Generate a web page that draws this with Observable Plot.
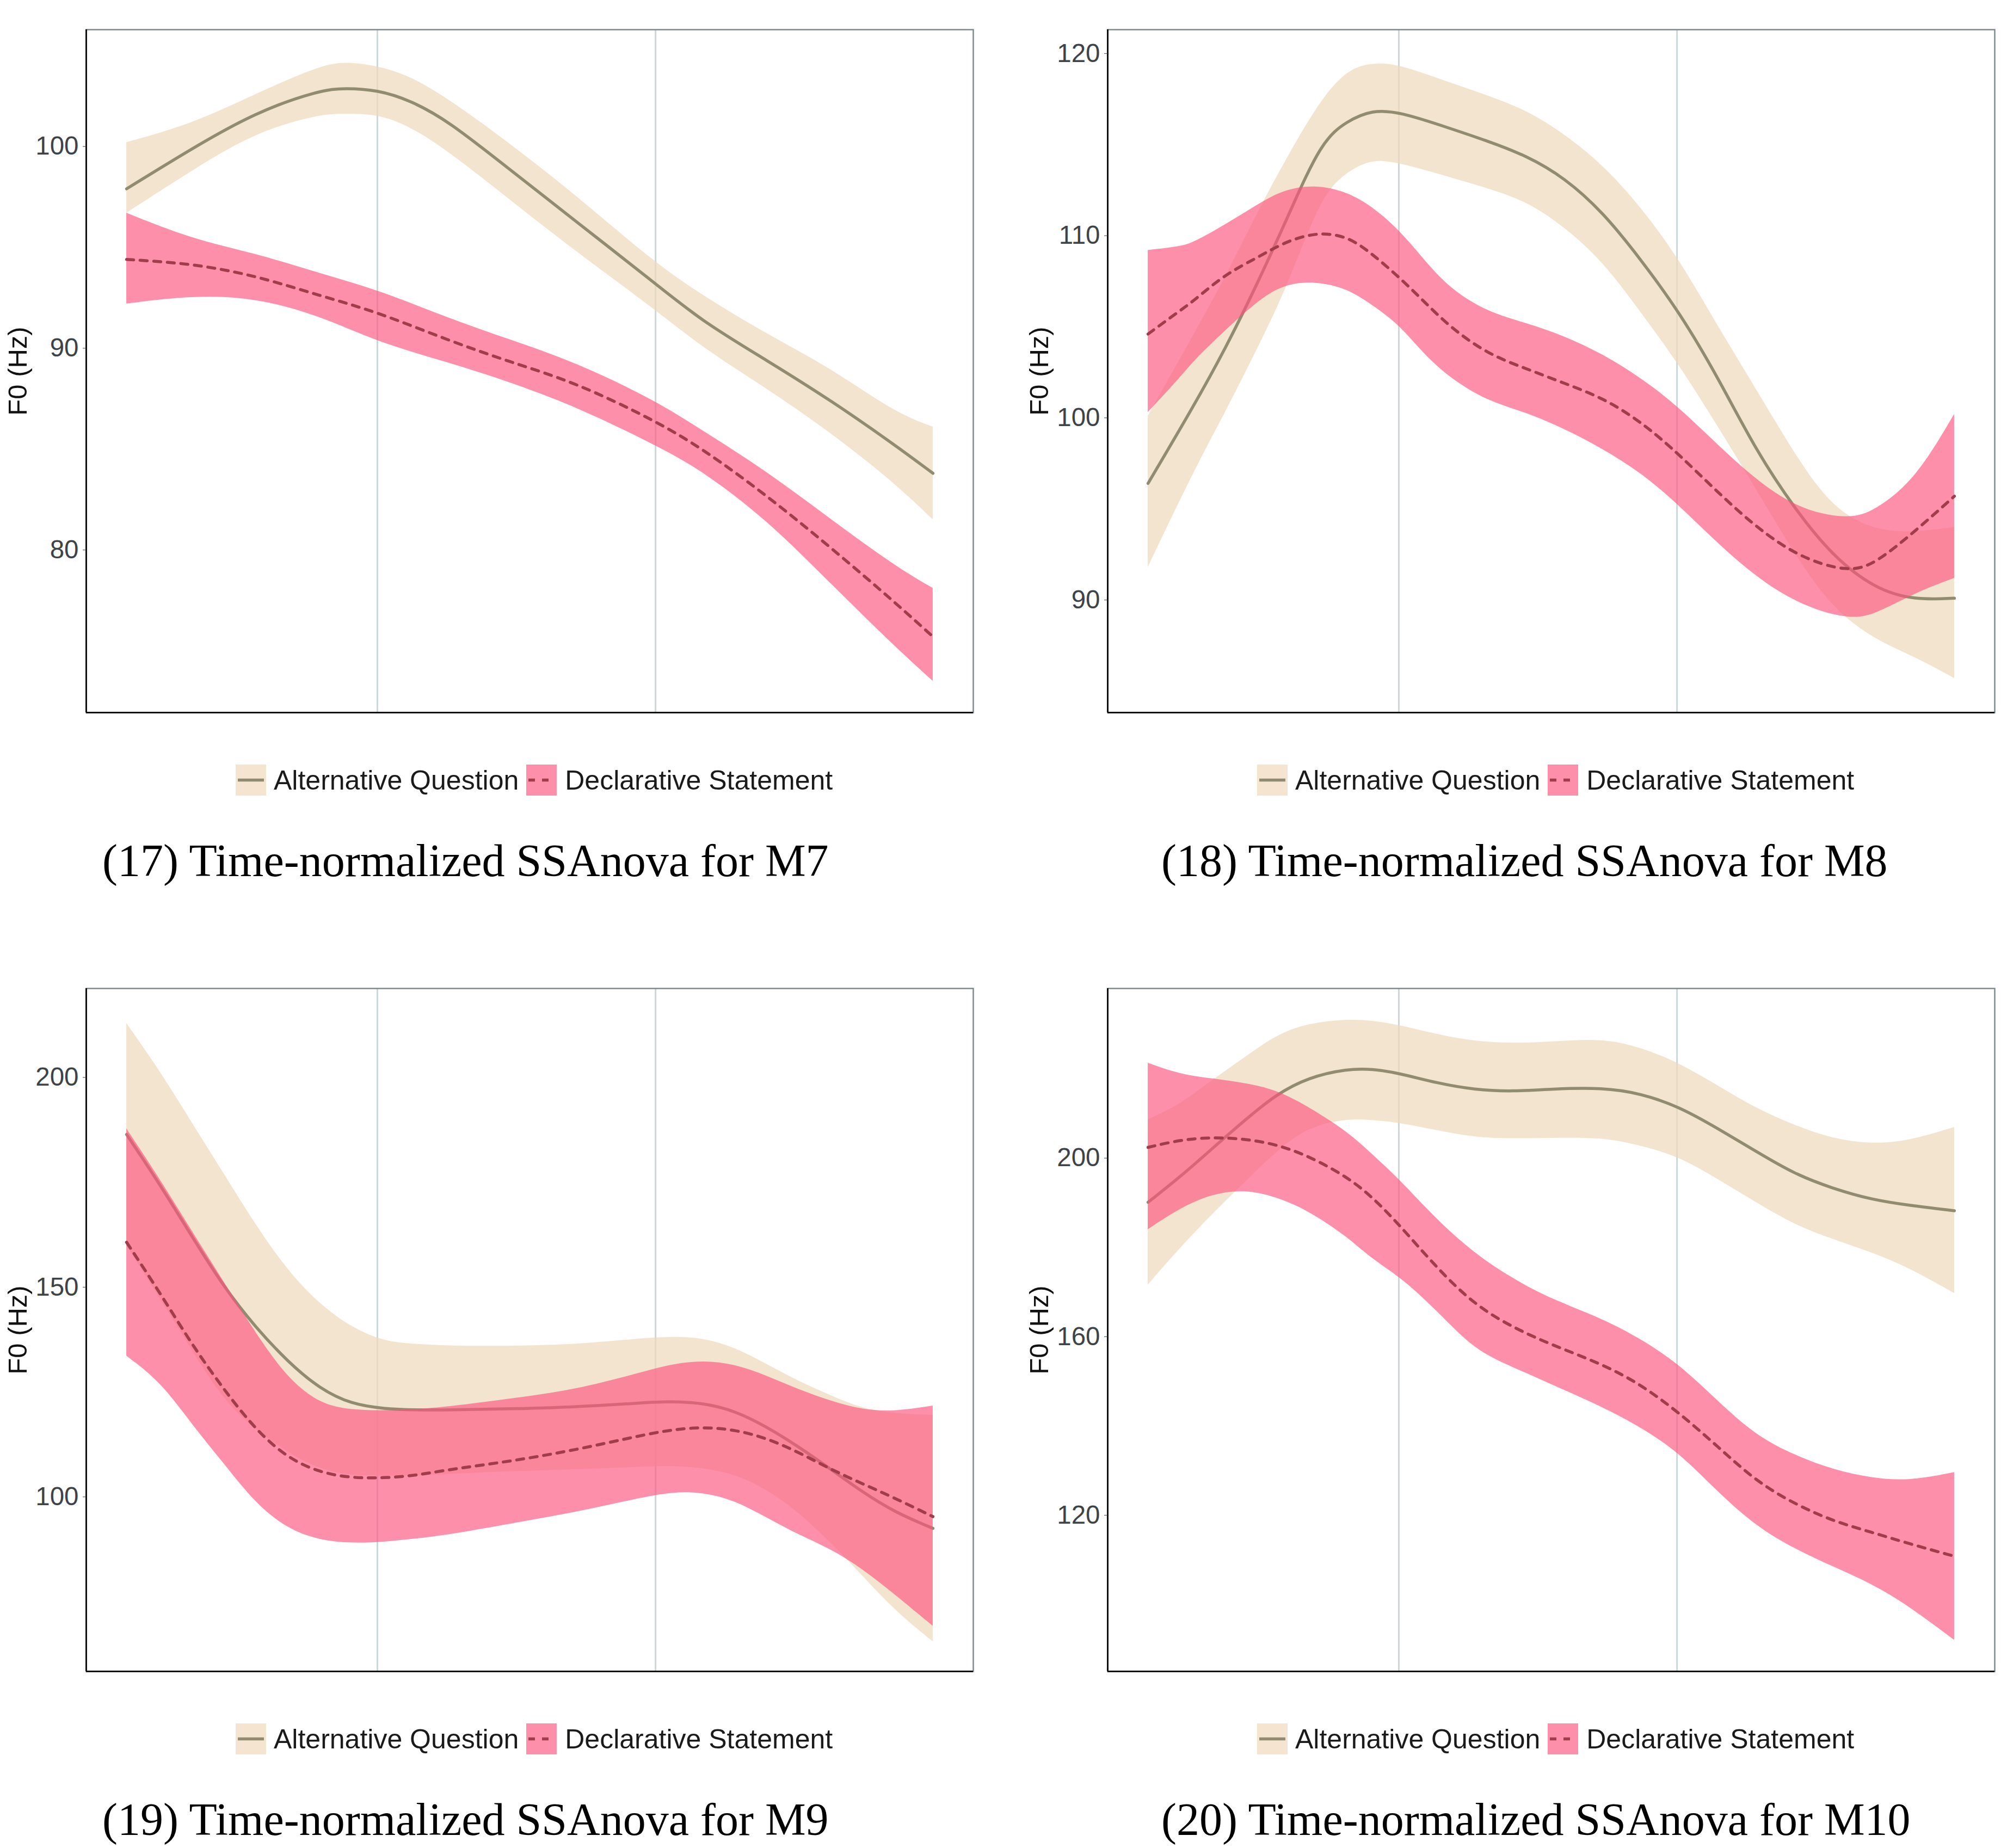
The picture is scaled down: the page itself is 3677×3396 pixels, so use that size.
<!DOCTYPE html>
<html><head><meta charset="utf-8">
<script src="https://cdn.jsdelivr.net/npm/d3@7"></script>
<script src="https://cdn.jsdelivr.net/npm/@observablehq/plot@0.6"></script>
<style>
body{margin:0;background:#fff;}
#page{position:relative;width:3677px;height:3396px;background:#fff;overflow:hidden;}
.panel{position:absolute;width:1800px;height:1330px;}
.legend{position:absolute;display:flex;align-items:center;font-family:"Liberation Sans",Arial,sans-serif;font-size:50px;color:#1a1a1a;white-space:nowrap;height:57px;}
.key{width:56px;height:57px;display:block;}
.caption{position:absolute;font-family:"Liberation Serif","Times New Roman",serif;font-size:84px;line-height:84px;color:#000;white-space:nowrap;}
.ylab{position:absolute;font-family:"Liberation Sans",Arial,sans-serif;font-size:49px;line-height:49px;color:#111;white-space:nowrap;transform:translate(-50%,-50%) rotate(-90deg);}
</style></head><body><div id="page"></div>
<script>
// ---- shared ----
const seriesNames = ["Alternative Question", "Declarative Statement"];
const gridT = [31.1, 65.6];
const yLabel = "F0 (Hz)";
const captions = [
  "(17) Time-normalized SSAnova for M7",
  "(18) Time-normalized SSAnova for M8",
  "(19) Time-normalized SSAnova for M9",
  "(20) Time-normalized SSAnova for M10"
];

// ---- panel 1 (M7) ----
const p1T_AQ = [0,8.1,16,24,27.1,31.1,35.1,39.8,47.7,55.7,65.6,71.5,79.4,87.4,95.3,100];
const p1AQ   = [97.9,99.9,101.7,102.8,102.9,102.8,102.3,101.3,98.8,96.3,93.2,91.3,89.4,87.4,85.2,83.8];
const p1AQhi = [100.2,101.1,102.6,104.0,104.2,104.0,103.5,102.4,100.1,97.6,94.2,92.6,90.7,89.0,86.8,86.1];
const p1AQlo = [96.7,98.8,100.7,101.6,101.6,101.6,101.0,99.8,97.3,94.8,91.9,90.0,88.0,85.8,83.3,81.5];
const p1T_DS = [0,8.1,16,24,31.1,39.8,47.7,55.7,65.6,71.5,79.4,87.4,95.3,100];
const p1DS   = [94.4,94.2,93.6,92.6,91.8,90.4,89.3,88.3,86.4,85.0,82.7,80.1,77.4,75.7];
const p1DShi = [96.7,95.4,94.7,93.7,92.9,91.5,90.4,89.3,87.4,85.9,83.9,81.5,79.2,78.1];
const p1DSlo = [92.2,92.6,92.5,91.6,90.3,89.3,88.3,87.1,85.2,83.9,81.5,78.3,75.2,73.5];
const p1Y = [71.94, 105.79];
const p1Ticks = [80, 90, 100];

// ---- panel 2 (M8) ----
const p2T_AQ = [0,5.6,9.6,13.6,17.5,21.5,24.7,27.8,31.2,37.4,42.1,46.9,51.6,56.4,61.1,65.9,70.7,75.4,80.2,84.9,90.2,95,100];
const p2AQ   = [96.4,100.6,103.8,107.4,111.2,115.2,116.3,116.9,116.8,115.9,115.2,114.4,113.2,111.3,108.7,105.8,102.2,98.2,95.0,92.4,90.6,90.0,90.1];
const p2AQhi = [100.1,104.5,107.7,111.3,114.5,117.5,119.1,119.5,119.4,118.4,117.7,116.9,115.6,113.9,111.6,108.7,105.0,101.6,98.0,95.0,93.8,93.7,94.0];
const p2AQlo = [91.8,97.0,100.3,103.8,107.4,112.2,113.5,114.2,114.0,113.2,112.6,111.9,110.5,108.6,105.8,102.9,99.5,96.1,92.5,89.5,87.8,86.9,85.7];
const p2T_DS = [0,4,5.6,9.6,13.6,16.7,20.7,24.7,27.8,31.2,34.2,37.4,42.1,46.9,51.6,56.4,61.1,65.9,73.4,80.2,86.9,90.2,95.2,100];
const p2DS   = [104.6,105.9,106.4,107.9,108.8,109.6,110.2,110.0,109.0,107.7,106.4,105.0,103.5,102.7,101.9,101.1,99.8,98.0,94.7,92.4,91.5,92.0,93.8,95.7];
const p2DShi = [109.2,109.4,109.6,110.6,111.7,112.5,112.8,112.4,111.6,110.3,108.7,107.1,105.8,105.2,104.5,103.5,102.2,100.6,97.3,95.0,94.4,94.9,96.6,100.2];
const p2DSlo = [100.3,102.2,103.1,104.8,106.4,107.3,107.5,107.1,106.2,105.1,103.5,102.2,100.9,100.3,99.4,98.3,97.0,95.2,91.9,89.8,88.9,89.2,90.4,91.2];
const p2Y = [83.82, 121.31];
const p2Ticks = [90, 100, 110, 120];

// ---- panel 3 (M9) ----
const p3T    = [0,4.2,8.1,12.1,16,20,24,27.9,31.9,35.9,39.8,47.7,55.7,63.6,67.5,71.5,75.5,79.4,83.4,87.4,91.3,95.3,100];
const p3AQ   = [186.4,174.3,162.1,149.9,140.4,132.2,125.7,122.1,121.0,120.7,120.7,121.0,121.4,122.4,122.8,122.4,120.5,116.7,111.9,106.5,101.1,96.3,92.5];
const p3AQhi = [212.9,201.4,189.2,177.0,164.8,153.9,145.8,140.4,137.0,136.4,136.0,135.9,136.3,137.7,138.2,137.9,135.6,131.6,127.5,124.1,121.0,119.8,119.5];
const p3AQlo = [159.9,147.2,135.0,122.8,116.0,110.5,106.5,105.0,105.0,105.0,105.4,106.1,106.5,107.1,107.4,106.9,105.4,101.8,96.3,88.9,81.2,72.8,65.5];
const p3DS   = [160.7,148.5,136.3,125.5,116.0,109.2,105.8,104.5,104.5,105.1,106.5,108.5,111.2,114.6,116.0,116.7,116.0,114.0,110.6,106.5,103.1,99.7,95.3];
const p3DShi = [187.8,175.6,163.4,151.2,139.0,128.2,122.1,120.7,120.5,120.9,121.4,123.4,125.5,129.5,131.6,132.5,131.6,128.9,125.5,122.8,120.7,120.3,121.7];
const p3DSlo = [133.6,127.5,117.3,107.9,98.4,92.3,89.6,88.9,89.2,90.0,90.9,93.6,96.3,99.7,101.1,101.1,99.1,95.0,90.9,87.5,82.8,76.7,69.2];
const p3Y = [58.4, 221.2];
const p3Ticks = [100, 150, 200];

// ---- panel 4 (M10) ----
const p4T    = [0,4,8,12,15.9,19.9,24.7,27.8,31.2,35.8,40.5,45.3,50,56.4,61.1,65.9,70.7,75.4,80.2,84.9,89.7,94.4,100];
const p4AQ   = [190.1,195.8,202.2,208.5,214.3,218.1,220.0,220.0,219.0,216.8,215.3,214.9,215.5,215.8,214.5,211.5,206.6,201.5,196.4,193.2,190.7,189.4,188.2];
const p4AQhi = [208.6,212.0,217.5,222.5,227.6,230.2,231.1,230.8,229.8,227.7,226.1,225.7,226.0,226.8,224.8,221.3,216.2,211.1,207.3,204.3,203.1,203.8,206.9];
const p4AQlo = [171.6,179.9,187.5,194.5,201.5,207.0,208.8,208.5,207.9,206.2,204.6,204.3,204.5,204.6,202.8,200.3,195.2,190.1,185.0,181.8,178.9,175.4,169.7];
const p4DS   = [202.4,204.1,204.7,204.3,203.1,200.5,195.8,191.3,185.0,175.4,167.1,162.0,158.2,153.8,149.3,142.9,135.3,127.6,122.5,118.7,116.2,113.6,110.8];
const p4DShi = [221.3,218.7,217.8,216.8,215.3,211.5,206.0,200.9,195.2,186.2,178.6,172.9,168.4,164.0,159.5,153.8,145.5,137.8,133.4,130.2,128.3,127.6,129.6];
const p4DSlo = [184.0,188.8,192.0,192.9,191.3,188.2,182.4,177.3,173.5,165.9,156.9,153.1,149.3,144.2,139.7,134.0,125.1,117.5,112.4,108.5,104.7,99.6,92.0];
const p4Y = [85.0, 238.0];
const p4Ticks = [120, 160, 200];

// ---- styling ----
const AQ_FILL = "#EFD9BE", AQ_FILL_OP = 0.72, AQ_LINE = "#918B6F";
const DS_FILL = "#FE537E", DS_FILL_OP = 0.65, DS_LINE = "#A13C4A";
const KEY_AQ = "#F4E4D0", KEY_DS = "#FE8FAB";
const CURVE = "basis";

function rows(t, y, lo, hi) { return t.map((x, i) => ({t: x, y: y[i], lo: lo[i], hi: hi[i]})); }

const panels = [
  {left: 0, top: 0, aq: rows(p1T_AQ, p1AQ, p1AQlo, p1AQhi), ds: rows(p1T_DS, p1DS, p1DSlo, p1DShi), y: p1Y, ticks: p1Ticks, capLeft: 188},
  {left: 1877, top: 0, aq: rows(p2T_AQ, p2AQ, p2AQlo, p2AQhi), ds: rows(p2T_DS, p2DS, p2DSlo, p2DShi), y: p2Y, ticks: p2Ticks, capLeft: 2134},
  {left: 0, top: 1762, aq: rows(p3T, p3AQ, p3AQlo, p3AQhi), ds: rows(p3T, p3DS, p3DSlo, p3DShi), y: p3Y, ticks: p3Ticks, capLeft: 188},
  {left: 1877, top: 1762, aq: rows(p4T, p4AQ, p4AQlo, p4AQhi), ds: rows(p4T, p4DS, p4DSlo, p4DShi), y: p4Y, ticks: p4Ticks, capLeft: 2134}
];

const page = document.getElementById("page");
const ML = 158, MT = 54, MB = 21, H = 1330;

panels.forEach((p, i) => {
  const svg = Plot.plot({
    width: 1800, height: H,
    marginLeft: ML, marginRight: 12, marginTop: MT, marginBottom: MB,
    style: {fontFamily: '"Liberation Sans", Arial, sans-serif', background: "transparent", overflow: "visible"},
    x: {domain: [-5, 105], axis: null},
    y: {domain: p.y},
    marks: [
      Plot.ruleX(gridT, {stroke: "#cdd6d9", strokeWidth: 3}),
      Plot.areaY(p.aq, {x: "t", y1: "lo", y2: "hi", fill: AQ_FILL, fillOpacity: AQ_FILL_OP, curve: CURVE}),
      Plot.lineY(p.aq, {x: "t", y: "y", stroke: AQ_LINE, strokeWidth: 5.5, curve: CURVE}),
      Plot.areaY(p.ds, {x: "t", y1: "lo", y2: "hi", fill: DS_FILL, fillOpacity: DS_FILL_OP, curve: CURVE}),
      Plot.lineY(p.ds, {x: "t", y: "y", stroke: DS_LINE, strokeWidth: 5.5, strokeDasharray: "13,12", curve: CURVE}),
      Plot.frame({stroke: "#7b8a8d", strokeWidth: 2.5}),
      Plot.ruleX([-5], {stroke: "#111", strokeWidth: 3}),
      Plot.ruleY([p.y[0]], {stroke: "#111", strokeWidth: 3}),
      Plot.axisY({ticks: p.ticks, tickSize: 6, tickPadding: 8, fontSize: 47.5, color: "#3d4346", label: null})
    ]
  });
  const div = document.createElement("div");
  div.className = "panel";
  div.style.left = p.left + "px";
  div.style.top = p.top + "px";
  div.appendChild(svg);
  page.appendChild(div);

  // y-axis title
  const yl = document.createElement("div");
  yl.className = "ylab";
  yl.style.left = (p.left + 32) + "px";
  yl.style.top = (p.top + (MT + H - MB) / 2) + "px";
  yl.textContent = yLabel;
  page.appendChild(yl);

  // legend
  const boxLeft = p.left + ML;
  const lg = document.createElement("div");
  lg.className = "legend";
  lg.style.left = (boxLeft + 275) + "px";
  lg.style.top = (p.top + 1405) + "px";
  lg.innerHTML =
    `<svg class="key" viewBox="0 0 56 57"><rect width="56" height="57" fill="${KEY_AQ}"/><line x1="4" x2="52" y1="28.5" y2="28.5" stroke="${AQ_LINE}" stroke-width="5.5"/></svg>` +
    `<span style="margin-left:14px">${seriesNames[0]}</span>` +
    `<svg class="key" viewBox="0 0 56 57" style="margin-left:14px"><rect width="56" height="57" fill="${KEY_DS}"/><line x1="4" x2="52" y1="28.5" y2="28.5" stroke="${DS_LINE}" stroke-width="5.5" stroke-dasharray="12,13"/></svg>` +
    `<span style="margin-left:15px">${seriesNames[1]}</span>`;
  page.appendChild(lg);

  // caption
  const cap = document.createElement("div");
  cap.className = "caption";
  cap.style.left = p.capLeft + "px";
  cap.style.top = (p.top + 1540) + "px";
  cap.textContent = captions[i];
  page.appendChild(cap);
});
</script></body></html>
